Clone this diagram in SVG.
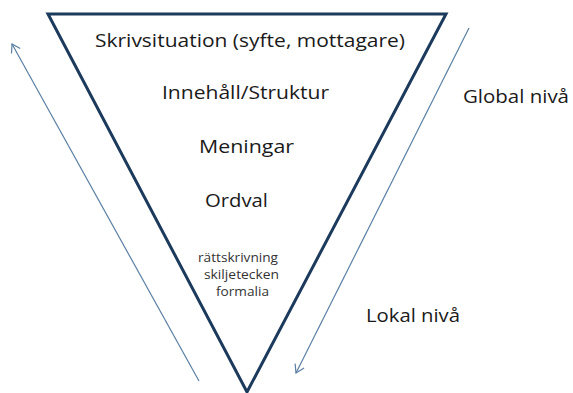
<svg xmlns="http://www.w3.org/2000/svg" width="573" height="393" viewBox="0 0 573 393">
<style>
.t{font-family:"Open Sans","Liberation Sans",Arial,sans-serif;fill:#1a1a1a;text-anchor:middle}
.big{font-size:17.5px}
.sm{font-size:12px;fill:#333}
.arr{stroke:#5a7fa3;stroke-width:1.2;fill:none}
</style>
<defs>
<marker id="ah" markerWidth="12" markerHeight="12" refX="9" refY="6" orient="auto" markerUnits="userSpaceOnUse">
<path d="M1,1 L9,6 L1,11" fill="none" stroke="#5a7fa3" stroke-width="1.2"/>
</marker>
</defs>
<rect width="573" height="393" fill="#fff"/>
<g id="triangle">
<polygon points="48,14 446,14 247,392" fill="#fff" stroke="#1c3a5c" stroke-width="3" stroke-linejoin="miter"/>
</g>
<g id="connectors">
<line class="arr" x1="199" y1="381" x2="12" y2="44" marker-end="url(#ah)"/>
<line class="arr" x1="469" y1="28" x2="296" y2="373" marker-end="url(#ah)"/>
</g>
<g id="labels">
<text class="t big" x="250" y="47" textLength="310" lengthAdjust="spacingAndGlyphs">Skrivsituation (syfte, mottagare)</text>
<text class="t big" x="245.5" y="99" textLength="167" lengthAdjust="spacingAndGlyphs">Innehåll/Struktur</text>
<text class="t big" x="246.5" y="153" textLength="95" lengthAdjust="spacingAndGlyphs">Meningar</text>
<text class="t big" x="236.5" y="207" textLength="63" lengthAdjust="spacingAndGlyphs">Ordval</text>
<text class="t sm" x="238" y="262" textLength="80" lengthAdjust="spacingAndGlyphs">rättskrivning</text>
<text class="t sm" x="241.5" y="279" textLength="75" lengthAdjust="spacingAndGlyphs">skiljetecken</text>
<text class="t sm" x="242.5" y="296" textLength="53" lengthAdjust="spacingAndGlyphs">formalia</text>
<text class="t big" x="516" y="103" textLength="106" lengthAdjust="spacingAndGlyphs">Global nivå</text>
<text class="t big" x="413" y="322" textLength="94" lengthAdjust="spacingAndGlyphs">Lokal nivå</text>
</g>
</svg>
